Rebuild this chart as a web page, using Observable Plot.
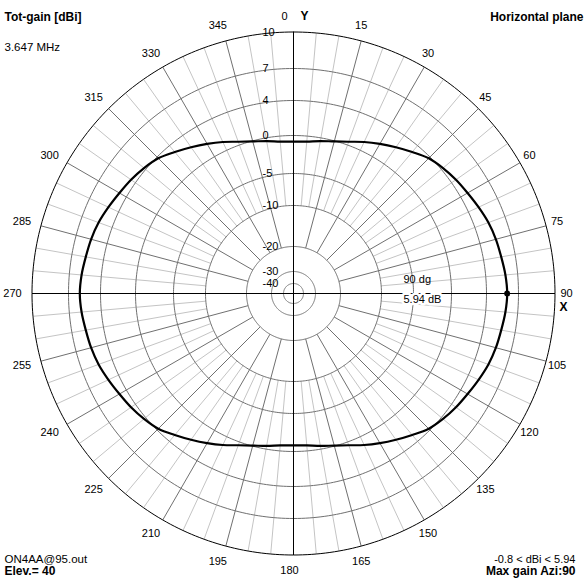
<!DOCTYPE html>
<html><head><meta charset="utf-8">
<script src="https://cdn.jsdelivr.net/npm/d3@7"></script>
<script src="https://cdn.jsdelivr.net/npm/@observablehq/plot@0.6"></script>
<style>body{margin:0;background:#fff}</style>
</head><body><div id="chart"></div>
<script>
// ---- data ----
const ringLabels = [10, 7, 4, 0, -5, -10, -20, -30, -40];
const angleLabels = [0,15,30,45,60,75,90,105,120,135,150,165,180,195,210,225,240,255,270,285,300,315,330,345];
const azimuth = d3.range(0, 360, 5);
const gain = [
  -0.8,-0.72,-0.42,-0.08,0.4,1.05,1.69,2.35,3.05,3.8,4.2,4.5,4.75,5.05,5.35,5.55,5.68,5.85,
  5.94,
  5.85,5.68,5.55,5.35,5.05,4.75,4.5,4.2,3.8,3.05,2.35,1.69,1.05,0.4,-0.08,-0.42,-0.72,
  -0.8,
  -0.72,-0.42,-0.08,0.4,1.05,1.69,2.35,3.05,3.8,4.2,4.5,4.75,5.05,5.35,5.55,5.68,5.85,
  5.94,
  5.85,5.68,5.55,5.35,5.05,4.75,4.5,4.2,3.8,3.05,2.35,1.69,1.05,0.4,-0.08,-0.42,-0.72
];
const maxAzi = 90, maxGain = 5.94, minGain = -0.8;
const freqText = "3.647 MHz";
const fileText = "ON4AA@95.out";
const elev = 40;

// ---- radial (dB) scale: EZNEC-style log grid ----
const rf = d3.scaleLinear()
  .domain([-40, -30, -20, -10, -5, 0, 4, 7, 10])
  .range([10, 22, 47, 88, 120, 158, 193, 225, 261.5].map(v => v / 261.5))
  .clamp(true);
const rad = a => a * Math.PI / 180;
const px = (a, db) => rf(db) * Math.sin(rad(a));
const py = (a, db) => rf(db) * Math.cos(rad(a));

const pattern = azimuth.map((a, i) => ({a, g: gain[i]}));
const allAngles = d3.range(0, 360, 5);
const lightAngles = allAngles.filter(a => a % 15 !== 0);
const darkAngles = allAngles.filter(a => a % 15 === 0 && a % 90 !== 0);
const ringPts = ringLabels.flatMap(r => d3.range(0, 361, 1).map(a => ({r, a})));

const FONT = "Liberation Sans, Arial, sans-serif";
const LR = 277 / 261.5;

const chart = Plot.plot({
  width: 587, height: 587,
  marginTop: 0, marginRight: 0, marginBottom: 0, marginLeft: 0,
  x: {domain: [-1, 1], range: [31.5, 554.5], axis: null},
  y: {domain: [-1, 1], range: [554.5, 31.5], axis: null},
  style: {fontFamily: FONT, fontSize: "11px", background: "#fff", color: "#000"},
  marks: [
    Plot.link(lightAngles, {x1: a => px(a, -10), y1: a => py(a, -10), x2: a => px(a, 10), y2: a => py(a, 10), stroke: "#c4c4c4", strokeWidth: 1}),
    Plot.link(darkAngles, {x1: a => px(a, -20), y1: a => py(a, -20), x2: a => px(a, 10), y2: a => py(a, 10), stroke: "#707070", strokeWidth: 1}),
    Plot.line(ringPts.filter(d => d.r !== 10), {x: d => px(d.a, d.r), y: d => py(d.a, d.r), z: "r", stroke: "#707070", strokeWidth: 1}),
    Plot.line(ringPts.filter(d => d.r === 10), {x: d => px(d.a, d.r), y: d => py(d.a, d.r), z: "r", stroke: "#000", strokeWidth: 1}),
    Plot.link([0, 90], {x1: a => px(a, 10), y1: a => py(a, 10), x2: a => px(a + 180, 10), y2: a => py(a + 180, 10), stroke: "#000", strokeWidth: 1}),
    Plot.line(pattern, {x: d => px(d.a, d.g), y: d => py(d.a, d.g), curve: "catmull-rom-closed", stroke: "#000", strokeWidth: 2.2}),
    Plot.dot([{a: maxAzi, g: maxGain}], {x: d => px(d.a, d.g), y: d => py(d.a, d.g), r: 3, fill: "#000"}),
    // angle labels
    Plot.text(angleLabels.filter(a => a !== 0), {x: a => LR * Math.sin(rad(a)), y: a => LR * Math.cos(rad(a)), text: a => String(a), dx: -4, fontSize: 11, fill: "#000"}),
    Plot.text([0], {x: a => LR * Math.sin(rad(a)), y: a => LR * Math.cos(rad(a)), text: a => String(a), dx: -9, fontSize: 11, fill: "#000"}),
    // radial labels
    Plot.text(ringLabels, {x: d => 0, y: d => rf(d), text: d => String(d), dx: -31, textAnchor: "start", fontSize: 11, fill: "#000"}),
    // axis letters
    Plot.text(["Y"], {x: d => 0, y: d => LR, text: d => d, dx: 11, fontWeight: "bold", fontSize: 12, fill: "#000"}),
    Plot.text(["X"], {x: d => LR, y: d => 0, text: d => d, dx: -7, dy: 14, fontWeight: "bold", fontSize: 12, fill: "#000"}),
    // max gain annotation
    Plot.text([`${maxAzi} dg`], {x: d => 0, y: d => 0, text: d => d, dx: 110, dy: -14, textAnchor: "start", fontSize: 11, fill: "#000"}),
    Plot.text([`${maxGain} dB`], {x: d => 0, y: d => 0, text: d => d, dx: 110, dy: 6, textAnchor: "start", fontSize: 11, fill: "#000", stroke: "#fff", strokeWidth: 5}),
    // corner texts
    Plot.text(["Tot-gain [dBi]"], {frameAnchor: "top-left", text: d => d, dx: 4, dy: 12, fontWeight: "bold", fontSize: 12, fill: "#000"}),
    Plot.text([freqText], {frameAnchor: "top-left", text: d => d, dx: 4, dy: 42, fontSize: 11.5, fill: "#000"}),
    Plot.text(["Horizontal plane"], {frameAnchor: "top-right", text: d => d, dx: -4, dy: 12, fontWeight: "bold", fontSize: 12, fill: "#000"}),
    Plot.text([fileText], {frameAnchor: "bottom-left", text: d => d, dx: 4, dy: -25, fontSize: 11.5, fill: "#000"}),
    Plot.text([`Elev.= ${elev}`], {frameAnchor: "bottom-left", text: d => d, dx: 4, dy: -13, fontWeight: "bold", fontSize: 12, fill: "#000"}),
    Plot.text([`${minGain} < dBi < ${maxGain}`], {frameAnchor: "bottom-right", text: d => d, dx: -12, dy: -25, fontSize: 11, fill: "#000"}),
    Plot.text([`Max gain Azi:${maxAzi}`], {frameAnchor: "bottom-right", text: d => d, dx: -12, dy: -13, fontWeight: "bold", fontSize: 12, fill: "#000"})
  ]
});
document.getElementById("chart").append(chart);
</script>
</body></html>
